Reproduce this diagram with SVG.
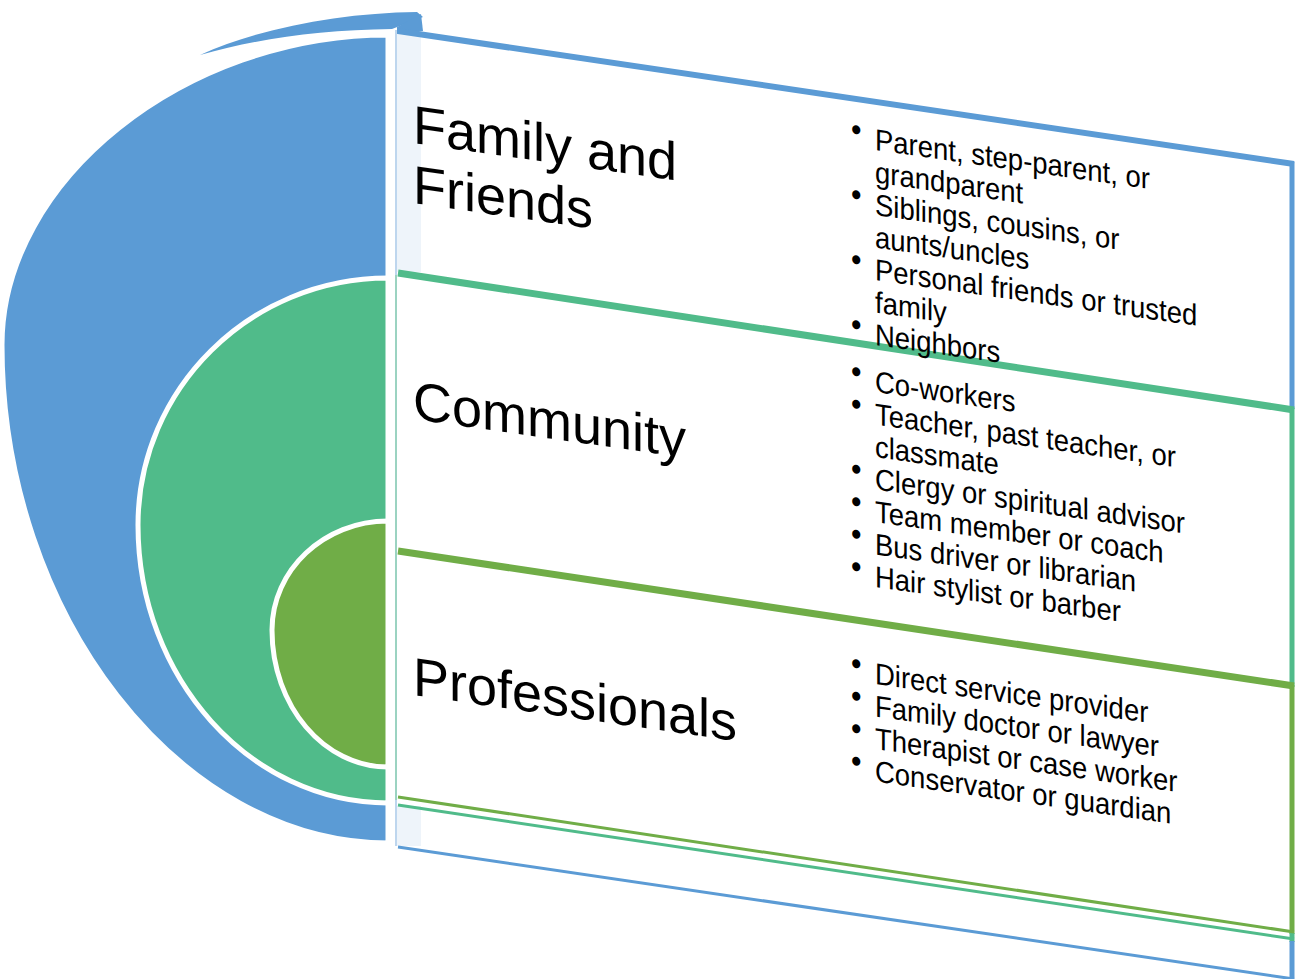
<svg xmlns="http://www.w3.org/2000/svg" width="1295" height="979" viewBox="0 0 1295 979">
<style>
.title{font-family:"Liberation Sans",Arial,sans-serif;font-size:54px;fill:#000}
.item{font-family:"Liberation Sans",Arial,sans-serif;font-size:27.5px;fill:#000}
.bul{font-family:"Liberation Sans",Arial,sans-serif;font-size:30px;fill:#000}
.ring{stroke:#fff;stroke-width:5}
.blue{fill:#5b9bd5}
.green{fill:#50bb8a}
.dgreen{fill:#70ad47}
</style>
<rect width="1295" height="979" fill="#fff"/>
<g id="shapes">
  <path id="blue-top" class="blue" d="M200,55 C260,28 340,13 417,12 L423,17 L392,29 C320,30 260,38 200,55 Z"/>
  <path id="blue-half" class="blue ring" d="M388,35 C185,35 2,180 2,345 C2,615 180,843 388,843 Z"/>
  <path id="green-half" class="green ring" d="M388,278 C250,278 138,389 138,525 C138,678 250,803 388,803 Z"/>
  <path id="dgreen-half" class="dgreen ring" d="M388,521 C324,521 272,570 272,630 C272,706 324,767 388,767 Z"/>
</g>
<g id="panel">
  <rect x="397" y="34" width="24" height="238" fill="#eef4fa"/>
  <rect x="397" y="806" width="24" height="40" fill="#eef4fa"/>
  <path d="M397,27 L421,14 L423,31 L397,34 Z" fill="#5b9bd5"/>
  <line x1="396" y1="30" x2="396" y2="846" stroke="#a9c8e8" stroke-width="1.5"/>
  <line x1="396" y1="275" x2="396" y2="800" stroke="#8fd2b2" stroke-width="1.5"/>
</g>
<g id="connectors" fill="none" stroke-linecap="butt">
  <line x1="398" y1="31" x2="1294" y2="164" stroke="#5b9bd5" stroke-width="6"/>
  <line x1="1292" y1="162" x2="1292" y2="409" stroke="#5b9bd5" stroke-width="5"/>
  <line x1="398" y1="273" x2="1294" y2="410" stroke="#50bb8a" stroke-width="7"/>
  <line x1="1292" y1="408" x2="1292" y2="687" stroke="#50bb8a" stroke-width="5"/>
  <line x1="398" y1="551" x2="1294" y2="686" stroke="#70ad47" stroke-width="7"/>
  <line x1="1292" y1="685" x2="1292" y2="934" stroke="#70ad47" stroke-width="5"/>
  <line x1="1292" y1="933" x2="1292" y2="942" stroke="#50bb8a" stroke-width="5"/>
  <line x1="1292" y1="941" x2="1292" y2="979" stroke="#5b9bd5" stroke-width="5"/>
  <line x1="398" y1="797" x2="1294" y2="932" stroke="#70ad47" stroke-width="3"/>
  <line x1="398" y1="805" x2="1294" y2="939" stroke="#50bb8a" stroke-width="3"/>
  <line x1="398" y1="847" x2="1294" y2="979" stroke="#5b9bd5" stroke-width="3"/>
</g>
<g id="node-family">
  <text class="title" transform="matrix(1 0.142 0 1 0 -58.65)"><tspan x="413" y="143">Family and</tspan><tspan x="413" y="203">Friends</tspan></text>
  <g transform="matrix(1 0.142 0 1.1 0 -124.25)">
    <text class="item"><tspan x="875" y="136.36">Parent, step-parent, or</tspan><tspan x="875" y="165.91">grandparent</tspan><tspan x="875" y="195.45">Siblings, cousins, or</tspan><tspan x="875" y="225">aunts/uncles</tspan><tspan x="875" y="254.55">Personal friends or trusted</tspan><tspan x="875" y="284.09">family</tspan><tspan x="875" y="313.64">Neighbors</tspan></text>
    <text class="bul"><tspan x="851" y="130.3">•</tspan><tspan x="851" y="189.4">•</tspan><tspan x="851" y="248.5">•</tspan><tspan x="851" y="307.6">•</tspan></text>
  </g>
</g>
<g id="node-community">
  <text class="title" transform="matrix(1 0.142 0 1 0 -58.65)" x="413" y="419">Community</text>
  <g transform="matrix(1 0.142 0 1.1 0 -124.25)">
    <text class="item"><tspan x="875" y="356.36">Co-workers</tspan><tspan x="875" y="385.91">Teacher, past teacher, or</tspan><tspan x="875" y="415.45">classmate</tspan><tspan x="875" y="445">Clergy or spiritual advisor</tspan><tspan x="875" y="474.55">Team member or coach</tspan><tspan x="875" y="504.09">Bus driver or librarian</tspan><tspan x="875" y="533.64">Hair stylist or barber</tspan></text>
    <text class="bul"><tspan x="851" y="350.3">•</tspan><tspan x="851" y="379.85">•</tspan><tspan x="851" y="438.95">•</tspan><tspan x="851" y="468.5">•</tspan><tspan x="851" y="498.05">•</tspan><tspan x="851" y="527.6">•</tspan></text>
  </g>
</g>
<g id="node-professionals">
  <text class="title" transform="matrix(1 0.142 0 1 0 -58.65)" x="413" y="695">Professionals</text>
  <g transform="matrix(1 0.142 0 1.1 0 -124.25)">
    <text class="item"><tspan x="875" y="621.82">Direct service provider</tspan><tspan x="875" y="651.36">Family doctor or lawyer</tspan><tspan x="875" y="680.91">Therapist or case worker</tspan><tspan x="875" y="710.45">Conservator or guardian</tspan></text>
    <text class="bul"><tspan x="851" y="615.75">•</tspan><tspan x="851" y="645.3">•</tspan><tspan x="851" y="674.85">•</tspan><tspan x="851" y="704.4">•</tspan></text>
  </g>
</g>
</svg>
